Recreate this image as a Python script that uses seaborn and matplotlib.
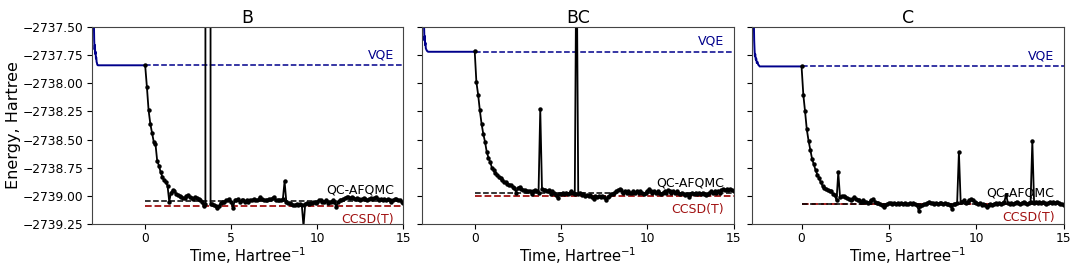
import numpy as np
import pandas as pd
import matplotlib
matplotlib.use("Agg")
import matplotlib.pyplot as plt
import seaborn as sns
from matplotlib.ticker import FuncFormatter

# -----------------------------------------------------------
# Data (energies in Hartree)
# -----------------------------------------------------------
panels = ["B", "BC", "C"]

# VQE optimisation trace shown at negative times
vqe_t_b = [-3.0, -2.98, -2.96, -2.94, -2.92, -2.9, -2.88, -2.86, -2.84, -2.82, -2.8, -2.78, -2.75, 0.0]
vqe_e_b = [-2736.8, -2737.45, -2737.62, -2737.70, -2737.66, -2737.74, -2737.72, -2737.78,
           -2737.77, -2737.81, -2737.82, -2737.835, -2737.84, -2737.84]
vqe_t_bc = [-2.95, -2.93, -2.91, -2.89, -2.87, -2.85, -2.83, -2.8, -2.77, -2.74, -2.7, 0.0]
vqe_e_bc = [-2736.9, -2737.5, -2737.62, -2737.58, -2737.66, -2737.64, -2737.69, -2737.70,
            -2737.71, -2737.715, -2737.72, -2737.72]
vqe_t_c = [-2.75, -2.73, -2.71, -2.69, -2.67, -2.65, -2.62, -2.59, -2.56, -2.52, -2.48, -2.44, -2.4, 0.0]
vqe_e_c = [-2736.9, -2737.45, -2737.62, -2737.70, -2737.76, -2737.74, -2737.79, -2737.78,
           -2737.82, -2737.81, -2737.835, -2737.84, -2737.85, -2737.85]

# QC-AFQMC trajectories, t = 0.0 ... 15.0 in steps of 0.1
e_b = [
    -2737.84, -2738.03, -2738.24, -2738.36, -2738.44, -2738.52, -2738.54, -2738.69, -2738.73, -2738.79,
    -2738.83, -2738.86, -2738.88, -2738.91, -2739.05,
    -2738.97, -2738.95, -2738.96, -2738.98, -2738.99, -2739.00, -2739.01, -2739.02, -2739.02, -2739.00,
    -2738.99, -2739.01, -2739.02, -2739.03, -2739.01, -2739.02, -2739.03, -2739.04, -2739.05, -2739.09,
    -2739.07, -2600.00, -2600.00, -2739.07, -2739.07, -2739.08, -2739.09, -2739.11, -2739.09, -2739.06,
    -2739.05, -2739.05, -2739.04, -2739.04, -2739.03, -2739.05, -2739.11, -2739.04, -2739.04, -2739.03,
    -2739.05, -2739.04, -2739.04, -2739.05, -2739.04, -2739.05, -2739.04, -2739.04, -2739.03, -2739.04,
    -2739.04, -2739.03, -2739.01, -2739.03, -2739.04, -2739.04, -2739.04, -2739.03, -2739.03, -2739.02,
    -2739.01, -2739.04, -2739.04, -2739.04, -2739.04, -2739.03, -2738.87, -2739.05, -2739.06, -2739.06,
    -2739.07, -2739.08, -2739.08, -2739.07, -2739.08, -2739.07, -2739.08, -2739.27, -2739.07, -2739.06,
    -2739.07, -2739.06, -2739.06, -2739.05, -2739.06, -2739.05, -2739.04, -2739.04, -2739.05, -2739.05,
    -2739.04, -2739.06, -2739.05, -2739.05, -2739.04, -2739.05, -2739.10, -2739.05, -2739.04, -2739.04,
    -2739.03, -2739.02, -2739.01, -2739.01, -2739.02, -2739.01, -2739.02, -2739.03, -2739.02, -2739.03,
    -2739.04, -2739.03, -2739.02, -2739.03, -2739.04, -2739.03, -2739.02, -2739.03, -2739.02, -2739.01,
    -2739.03, -2739.04, -2739.03, -2739.04, -2739.03, -2739.04, -2739.03, -2739.04, -2739.05, -2739.04,
    -2739.03, -2739.03, -2739.04, -2739.04, -2739.05, -2739.06,
]
e_bc = [
    -2737.71, -2737.99, -2738.10, -2738.24, -2738.36, -2738.45, -2738.52, -2738.61, -2738.66, -2738.70,
    -2738.75, -2738.77, -2738.80, -2738.81, -2738.83,
    -2738.84, -2738.86, -2738.88, -2738.88, -2738.89, -2738.90, -2738.90, -2738.92, -2738.93, -2738.97,
    -2738.93, -2738.92, -2738.94, -2738.95, -2738.95, -2738.96, -2738.96, -2738.96, -2738.98, -2738.96,
    -2738.95, -2738.96, -2738.97, -2738.23, -2738.94, -2738.95, -2738.95, -2738.96, -2738.95, -2738.98,
    -2738.96, -2738.97, -2738.99, -2739.02, -2738.98, -2738.98, -2738.97, -2738.98, -2738.97, -2738.98,
    -2738.97, -2738.96, -2738.97, -2738.98, -2736.60, -2738.98, -2738.97, -2738.99, -2738.98, -2739.00,
    -2738.99, -2739.00, -2738.99, -2739.01, -2739.03, -2739.00, -2739.01, -2739.00, -2739.01, -2739.00,
    -2739.01, -2739.04, -2739.01, -2739.00, -2738.98, -2738.98, -2738.97, -2738.96, -2738.95, -2738.94,
    -2738.95, -2738.97, -2738.96, -2738.97, -2738.96, -2738.97, -2738.97, -2738.96, -2738.97, -2738.96,
    -2738.97, -2738.96, -2738.97, -2738.98, -2738.97, -2738.96, -2738.94, -2738.96, -2738.97, -2738.96,
    -2738.97, -2738.96, -2738.97, -2738.98, -2738.97, -2738.96, -2738.97, -2738.95, -2738.96, -2738.97,
    -2738.96, -2738.97, -2738.96, -2738.97, -2738.98, -2738.97, -2738.98, -2738.99, -2738.98, -2739.01,
    -2738.98, -2738.97, -2738.98, -2738.97, -2738.98, -2738.97, -2738.98, -2738.97, -2738.98, -2738.99,
    -2738.98, -2738.97, -2738.96, -2738.97, -2738.96, -2738.97, -2738.96, -2738.97, -2738.95, -2738.94,
    -2738.95, -2738.94, -2738.95, -2738.94, -2738.95, -2738.96,
]
e_c = [
    -2737.85, -2738.10, -2738.25, -2738.41, -2738.51, -2738.59, -2738.67, -2738.72, -2738.77, -2738.81,
    -2738.84, -2738.88, -2738.91, -2738.93, -2738.94,
    -2738.95, -2738.96, -2738.96, -2738.98, -2738.99, -2739.04, -2738.79, -2739.01, -2739.00, -2739.00,
    -2739.01, -2739.02, -2739.03, -2739.04, -2739.03, -2739.01, -2739.03, -2739.04, -2739.04, -2739.05,
    -2739.04, -2739.05, -2739.05, -2739.06, -2739.05, -2739.04, -2739.03, -2739.05, -2739.06, -2739.06,
    -2739.07, -2739.08, -2739.10, -2739.08, -2739.07, -2739.06, -2739.06, -2739.07, -2739.06, -2739.07,
    -2739.06, -2739.07, -2739.06, -2739.07, -2739.06, -2739.07, -2739.07, -2739.06, -2739.07, -2739.06,
    -2739.07, -2739.08, -2739.13, -2739.09, -2739.08, -2739.07, -2739.07, -2739.06, -2739.05, -2739.06,
    -2739.06, -2739.07, -2739.06, -2739.07, -2739.06, -2739.06, -2739.07, -2739.06, -2739.07, -2739.07,
    -2739.08, -2739.12, -2739.07, -2739.07, -2739.06, -2738.61, -2739.05, -2739.05, -2739.04, -2739.06,
    -2739.05, -2739.04, -2739.03, -2739.04, -2739.05, -2739.06, -2739.07, -2739.06, -2739.08, -2739.07,
    -2739.08, -2739.10, -2739.08, -2739.07, -2739.08, -2739.07, -2739.06, -2739.07, -2739.06, -2739.07,
    -2739.06, -2739.05, -2738.99, -2739.06, -2739.07, -2739.06, -2739.07, -2739.06, -2739.05, -2739.06,
    -2739.07, -2739.06, -2739.05, -2739.06, -2739.07, -2739.06, -2739.05, -2738.51, -2739.06, -2739.05,
    -2739.06, -2739.05, -2739.06, -2739.05, -2739.06, -2739.07, -2739.06, -2739.05, -2739.06, -2739.05,
    -2739.06, -2739.05, -2739.06, -2739.07, -2739.07, -2739.08,
]

# reference energies (dashed lines)
vqe_ref = [-2737.84, -2737.72, -2737.85]
qc_ref = [-2739.045, -2738.977, -2739.068]
ccsd_ref = [-2739.09, -2739.004, -2739.073]

x_left = [-3.1, -3.05, -2.82]

vqe_t = [vqe_t_b, vqe_t_bc, vqe_t_c]
vqe_e = [vqe_e_b, vqe_e_bc, vqe_e_c]
afqmc_e = [e_b, e_bc, e_c]

# -----------------------------------------------------------
# Plot
# -----------------------------------------------------------
sns.set_style("ticks")
plt.rcParams["font.family"] = ["DejaVu Sans"]
plt.rcParams["text.color"] = "black"
plt.rcParams["axes.labelcolor"] = "black"
plt.rcParams["xtick.color"] = "black"
plt.rcParams["ytick.color"] = "black"

blue = "#00008b"
red = "#a01010"

fig, axes = plt.subplots(1, 3, figsize=(10.8, 2.7), dpi=100, sharey=True)
fig.subplots_adjust(left=0.085, right=0.985, top=0.9, bottom=0.17, wspace=0.06)

fmt = FuncFormatter(lambda v, p: f"{v:.2f}".replace("-", "\u2212"))

for i, ax in enumerate(axes):
    t = np.linspace(0, 15, len(afqmc_e[i]))
    df = pd.DataFrame({"t": t, "E": afqmc_e[i]})
    df_vqe = pd.DataFrame({"t": vqe_t[i], "E": vqe_e[i]})

    sns.lineplot(data=df_vqe, x="t", y="E", ax=ax, color=blue, lw=1.4)
    ax.hlines(vqe_ref[i], 0, 15, colors=blue, linestyles="--", lw=1.1)
    ax.hlines(ccsd_ref[i], 0, 15, colors=red, linestyles="--", lw=1.3)
    ax.hlines(qc_ref[i], 0, 15, colors="black", linestyles="--", lw=1.1)
    sns.lineplot(data=df, x="t", y="E", ax=ax, color="black", lw=1.3,
                 marker="o", markersize=3.2, markeredgewidth=0)

    ax.annotate("VQE", xy=(0.97, vqe_ref[i]), xycoords=("axes fraction", "data"),
                xytext=(0, 3), textcoords="offset points", ha="right", va="bottom",
                color=blue, fontsize=9)
    ax.annotate("QC-AFQMC", xy=(0.97, qc_ref[i]), xycoords=("axes fraction", "data"),
                xytext=(0, 3), textcoords="offset points", ha="right", va="bottom",
                color="black", fontsize=9)
    ax.annotate("CCSD(T)", xy=(0.97, ccsd_ref[i]), xycoords=("axes fraction", "data"),
                xytext=(0, -5), textcoords="offset points", ha="right", va="top",
                color=red, fontsize=9)

    ax.set_xlim(x_left[i], 15)
    ax.set_ylim(-2739.25, -2737.5)
    ax.set_xticks([0, 5, 10, 15])
    ax.set_yticks(np.arange(-2739.25, -2737.49, 0.25))
    ax.yaxis.set_major_formatter(fmt)
    ax.tick_params(labelsize=8.8, length=3.5, width=0.8, pad=2.5)
    for s in ax.spines.values():
        s.set_visible(True)
        s.set_linewidth(0.8)
        s.set_color("#444444")
    ax.set_title(panels[i], fontsize=12.5, pad=3)
    ax.set_xlabel("Time, Hartree$^{-1}$", fontsize=10.5, labelpad=0)
    ax.set_ylabel("Energy, Hartree" if i == 0 else "", fontsize=11.5, labelpad=1)

fig.savefig("out.png", dpi=100)
